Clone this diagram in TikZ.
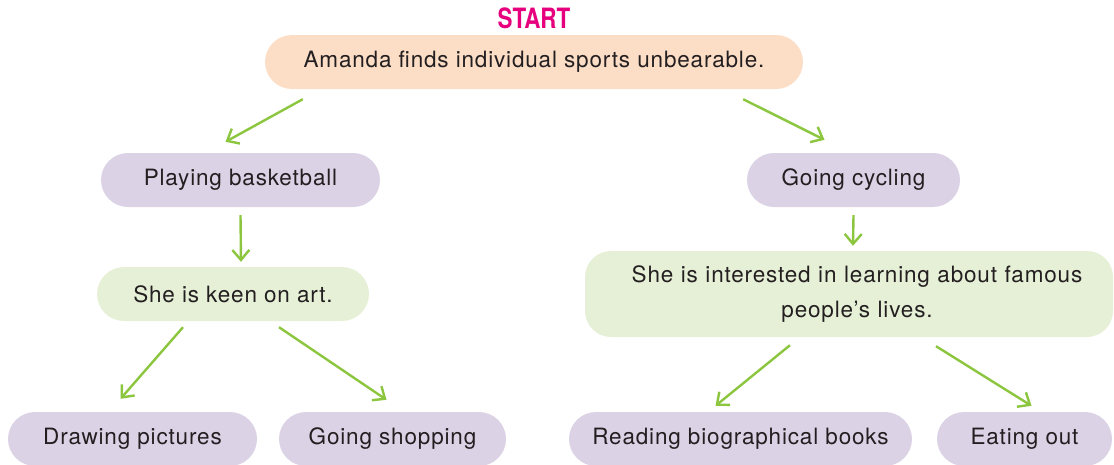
\documentclass[tikz,border=0pt]{standalone}
\usepackage{fontspec}
\setmainfont{TeX Gyre Heros}
\newfontfamily\boxfont[LetterSpace=3.7]{TeX Gyre Heros}
\usetikzlibrary{arrows.meta}
\definecolor{peach}{HTML}{FCDEC7}
\definecolor{lav}{HTML}{DCD2E6}
\definecolor{mint}{HTML}{E6F0D7}
\definecolor{arrgreen}{HTML}{8CC63F}
\definecolor{startpink}{HTML}{E6007E}
\definecolor{txt}{HTML}{231F20}
\tikzset{
  box/.style={rounded corners=27pt, minimum height=54pt, inner sep=0pt, text=txt, font=\boxfont\fontsize{22.5}{35}\selectfont, align=center},
  peachbox/.style={box, fill=peach},
  lavbox/.style={box, fill=lav},
  mintbox/.style={box, fill=mint},
  arr/.style={draw=arrgreen, line width=2.4pt, -{Straight Barb[length=10pt,width=17pt,line width=2.4pt]}},
}
\begin{document}
\begin{tikzpicture}[x=1pt,y=-1pt]
\useasboundingbox (0,0) rectangle (1114,464);
\node[text=startpink, font=\fontsize{28}{30}\selectfont\bfseries] (start) at (534,18) {\scalebox{0.8}[1]{START}};
\node[peachbox, minimum width=538pt] (amanda) at (534,62) {Amanda finds individual sports unbearable.};
\node[lavbox, minimum width=279pt] (play) at (240.5,180) {Playing basketball};
\node[lavbox, minimum width=213pt] (cyc) at (853.5,180) {Going cycling};
\node[mintbox, minimum width=272pt] (keen) at (233,294) {She is keen on art.};
\node[mintbox, rounded corners=26pt, minimum width=528pt, minimum height=86pt, text width=520pt] (int) at (849,294) {\hspace*{16pt}She is interested in learning about famous\\\hspace*{16pt}people’s lives.};
\node[lavbox, minimum width=249pt] (drw) at (132.5,439) {Drawing pictures};
\node[lavbox, minimum width=227pt] (shop) at (392.5,439) {Going shopping};
\node[lavbox, minimum width=343pt] (read) at (740.5,439) {Reading biographical books};
\node[lavbox, minimum width=175pt] (eat) at (1024.5,439) {Eating out};
\draw[arr] ([shift={(38,10)}]amanda.south west) -- ([shift={(-15,-11)}]play.north);
\draw[arr] ([shift={(-60,10)}]amanda.south east) -- ([shift={(-29,-13)}]cyc.north);
\draw[arr] ([shift={(0,8)}]play.south) -- ([shift={(8,-5)}]keen.north);
\draw[arr] ([shift={(0,8)}]cyc.south) -- ([shift={(4,-5)}]int.north);
\draw[arr] ([shift={(-50,6)}]keen.south) -- ([shift={(-12,-13)}]drw.north);
\draw[arr] ([shift={(46,6)}]keen.south) -- ([shift={(-6,-12)}]shop.north);
\draw[arr] ([shift={(-59,8)}]int.south) -- ([shift={(-25,-6)}]read.north);
\draw[arr] ([shift={(87,9)}]int.south) -- ([shift={(7,-6)}]eat.north);
\end{tikzpicture}
\end{document}
